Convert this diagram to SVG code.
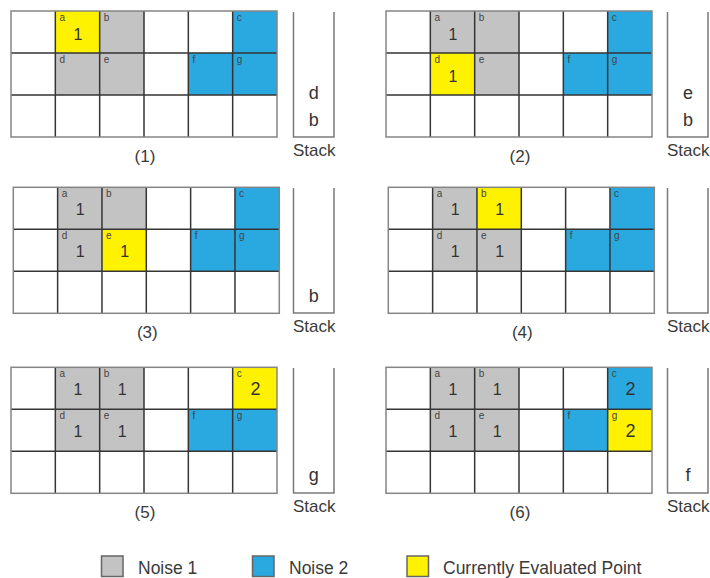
<svg xmlns="http://www.w3.org/2000/svg" xmlns:xlink="http://www.w3.org/1999/xlink" width="710" height="578" viewBox="0 0 710 578">
<style>
.g{fill:#c3c3c3}
.b{fill:#29a9e0}
.y{fill:#fff200}
.inner{fill:none;stroke:#353535;stroke-width:1.5}
.outer{fill:none;stroke:#858585;stroke-width:1.5}
.stk{fill:none;stroke:#7a7a7a;stroke-width:1.5}
.lbl{font-family:"Liberation Sans",Arial,sans-serif;font-size:10px;fill:#444}
.num{font-family:"Liberation Sans",Arial,sans-serif;font-size:16px;fill:#333;text-anchor:middle}
.st{font-family:"Liberation Sans",Arial,sans-serif;font-size:18px;fill:#333;text-anchor:middle}
.cap{font-family:"Liberation Sans",Arial,sans-serif;font-size:17px;fill:#3a3a3a}
.mid{text-anchor:middle}
.leg{font-family:"Liberation Sans",Arial,sans-serif;font-size:17.5px;fill:#3a3a3a}
.lb{stroke:#666;stroke-width:1.5}
</style>
<defs>
<g id="grid">
<path class="inner" d="M44.33,0V126M88.67,0V126M133,0V126M177.33,0V126M221.67,0V126M0,42H266M0,84H266"/>
<rect class="outer" x="0" y="0" width="266" height="126"/>
</g>
<g id="labels">
<text class="lbl" x="48.5" y="9.5">a</text>
<text class="lbl" x="92.8" y="9.5">b</text>
<text class="lbl" x="225.8" y="9.5">c</text>
<text class="lbl" x="48.5" y="51.5">d</text>
<text class="lbl" x="92.8" y="51.5">e</text>
<text class="lbl" x="181.5" y="51.5">f</text>
<text class="lbl" x="225.8" y="51.5">g</text>
</g>
<path id="stack" class="stk" d="M0,0V125H40.5V0"/>
</defs>

<g id="panel1">
<g transform="translate(11,11)">
<rect class="y" x="44.33" y="0" width="44.33" height="42"/>
<rect class="g" x="88.67" y="0" width="44.33" height="42"/>
<rect class="g" x="44.33" y="42" width="44.33" height="42"/>
<rect class="g" x="88.67" y="42" width="44.33" height="42"/>
<rect class="b" x="221.67" y="0" width="44.33" height="42"/>
<rect class="b" x="177.33" y="42" width="44.33" height="42"/>
<rect class="b" x="221.67" y="42" width="44.33" height="42"/>
<use href="#grid"/>
<use href="#labels"/>
<text class="num" x="67" y="28.5">1</text>
<text class="cap mid" x="134" y="151">(1)</text>
</g>
<use href="#stack" x="293.5" y="12"/>
<text class="st" x="313.7" y="99">d</text>
<text class="st" x="313.7" y="126">b</text>
<text class="cap" x="293" y="156">Stack</text>
</g>

<g id="panel2">
<g transform="translate(386,11)">
<rect class="g" x="44.33" y="0" width="44.33" height="42"/>
<rect class="g" x="88.67" y="0" width="44.33" height="42"/>
<rect class="y" x="44.33" y="42" width="44.33" height="42"/>
<rect class="g" x="88.67" y="42" width="44.33" height="42"/>
<rect class="b" x="221.67" y="0" width="44.33" height="42"/>
<rect class="b" x="177.33" y="42" width="44.33" height="42"/>
<rect class="b" x="221.67" y="42" width="44.33" height="42"/>
<use href="#grid"/>
<use href="#labels"/>
<text class="num" x="67" y="28.5">1</text>
<text class="num" x="67" y="70.5">1</text>
<text class="cap mid" x="134" y="151">(2)</text>
</g>
<use href="#stack" x="667.5" y="12"/>
<text class="st" x="688" y="99">e</text>
<text class="st" x="688" y="126">b</text>
<text class="cap" x="667" y="156">Stack</text>
</g>

<g id="panel3">
<g transform="translate(13.3,187.3)">
<rect class="g" x="44.33" y="0" width="44.33" height="42"/>
<rect class="g" x="88.67" y="0" width="44.33" height="42"/>
<rect class="g" x="44.33" y="42" width="44.33" height="42"/>
<rect class="y" x="88.67" y="42" width="44.33" height="42"/>
<rect class="b" x="221.67" y="0" width="44.33" height="42"/>
<rect class="b" x="177.33" y="42" width="44.33" height="42"/>
<rect class="b" x="221.67" y="42" width="44.33" height="42"/>
<use href="#grid"/>
<use href="#labels"/>
<text class="num" x="67" y="28">1</text>
<text class="num" x="67" y="70">1</text>
<text class="num" x="111.3" y="70">1</text>
<text class="cap mid" x="134" y="151">(3)</text>
</g>
<use href="#stack" x="293.5" y="188"/>
<text class="st" x="313.7" y="302">b</text>
<text class="cap" x="293" y="332">Stack</text>
</g>

<g id="panel4">
<g transform="translate(388.3,187.3)">
<rect class="g" x="44.33" y="0" width="44.33" height="42"/>
<rect class="y" x="88.67" y="0" width="44.33" height="42"/>
<rect class="g" x="44.33" y="42" width="44.33" height="42"/>
<rect class="g" x="88.67" y="42" width="44.33" height="42"/>
<rect class="b" x="221.67" y="0" width="44.33" height="42"/>
<rect class="b" x="177.33" y="42" width="44.33" height="42"/>
<rect class="b" x="221.67" y="42" width="44.33" height="42"/>
<use href="#grid"/>
<use href="#labels"/>
<text class="num" x="67" y="28">1</text>
<text class="num" x="111.3" y="28">1</text>
<text class="num" x="67" y="70">1</text>
<text class="num" x="111.3" y="70">1</text>
<text class="cap mid" x="134" y="151">(4)</text>
</g>
<use href="#stack" x="667.5" y="188"/>
<text class="cap" x="667" y="332">Stack</text>
</g>

<g id="panel5">
<g transform="translate(11,367.3)">
<rect class="g" x="44.33" y="0" width="44.33" height="42"/>
<rect class="g" x="88.67" y="0" width="44.33" height="42"/>
<rect class="g" x="44.33" y="42" width="44.33" height="42"/>
<rect class="g" x="88.67" y="42" width="44.33" height="42"/>
<rect class="y" x="221.67" y="0" width="44.33" height="42"/>
<rect class="b" x="177.33" y="42" width="44.33" height="42"/>
<rect class="b" x="221.67" y="42" width="44.33" height="42"/>
<use href="#grid"/>
<use href="#labels"/>
<text class="num" x="67" y="28">1</text>
<text class="num" x="111.3" y="28">1</text>
<text class="num" x="67" y="70">1</text>
<text class="num" x="111.3" y="70">1</text>
<text class="num" x="244.5" y="28" style="font-size:18px">2</text>
<text class="cap mid" x="134" y="151">(5)</text>
</g>
<use href="#stack" x="293.5" y="368"/>
<text class="st" x="313.7" y="481">g</text>
<text class="cap" x="293" y="512">Stack</text>
</g>

<g id="panel6">
<g transform="translate(386,367.3)">
<rect class="g" x="44.33" y="0" width="44.33" height="42"/>
<rect class="g" x="88.67" y="0" width="44.33" height="42"/>
<rect class="g" x="44.33" y="42" width="44.33" height="42"/>
<rect class="g" x="88.67" y="42" width="44.33" height="42"/>
<rect class="b" x="221.67" y="0" width="44.33" height="42"/>
<rect class="b" x="177.33" y="42" width="44.33" height="42"/>
<rect class="y" x="221.67" y="42" width="44.33" height="42"/>
<use href="#grid"/>
<use href="#labels"/>
<text class="num" x="67" y="28">1</text>
<text class="num" x="111.3" y="28">1</text>
<text class="num" x="67" y="70">1</text>
<text class="num" x="111.3" y="70">1</text>
<text class="num" x="244.5" y="28" style="font-size:18px">2</text>
<text class="num" x="244.5" y="70" style="font-size:18px">2</text>
<text class="cap mid" x="134" y="151">(6)</text>
</g>
<use href="#stack" x="667.5" y="368"/>
<text class="st" x="688" y="481">f</text>
<text class="cap" x="667" y="512">Stack</text>
</g>

<g id="legend">
<rect class="g lb" x="101.5" y="556" width="21.5" height="20.5"/>
<text class="leg" x="138" y="574">Noise 1</text>
<rect class="b lb" x="252.5" y="556" width="21.5" height="20.5"/>
<text class="leg" x="289" y="574">Noise 2</text>
<rect class="y lb" x="407" y="556" width="21.5" height="20.5"/>
<text class="leg" x="443" y="574">Currently Evaluated Point</text>
</g>
</svg>
